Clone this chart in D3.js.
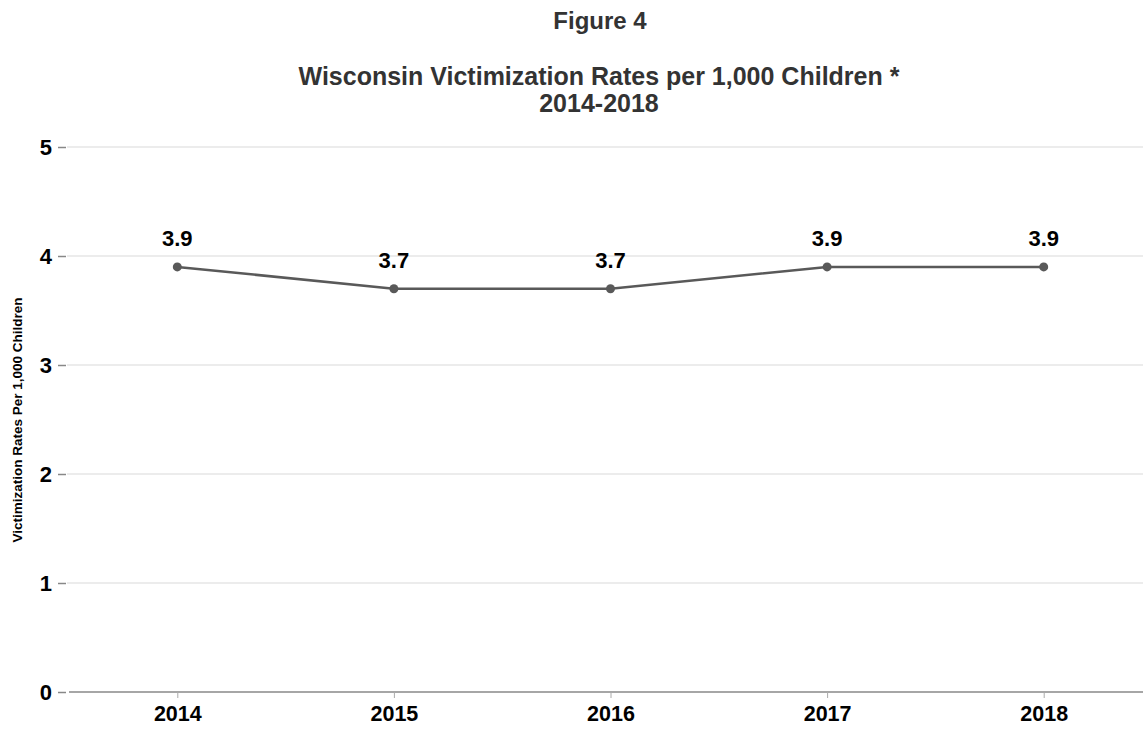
<!DOCTYPE html>
<html>
<head>
<meta charset="utf-8">
<script src="https://cdn.jsdelivr.net/npm/d3@7"></script>
<style>
  body { margin: 0; background: #fff; }
  text { font-family: "Liberation Sans", Arial, sans-serif; }
</style>
</head>
<body>
<script>
// chart data
let years = ["2014", "2015", "2016", "2017", "2018"];
let rates = [3.9, 3.7, 3.7, 3.9, 3.9];
let yTicks = [0, 1, 2, 3, 4, 5];

let w = 1143;
let h = 732;
let mLeft = 67, mRight = 1143, mTop = 147, mBottom = 692;

let svg = d3.select("body")
            .append("svg")
            .attr("width", w)
            .attr("height", h);

let x = d3.scalePoint().domain(years).range([69, 1152]).padding(0.5);
let y = d3.scaleLinear().domain([0, 5]).range([mBottom, mTop]);

// titles
svg.append("text").attr("x", 600).attr("y", 29).attr("text-anchor", "middle")
   .attr("font-size", 24).attr("font-weight", "bold").attr("fill", "#333")
   .text("Figure 4");
svg.append("text").attr("x", 599).attr("y", 85).attr("text-anchor", "middle")
   .attr("font-size", 25).attr("font-weight", "bold").attr("fill", "#333")
   .text("Wisconsin Victimization Rates per 1,000 Children *");
svg.append("text").attr("x", 599).attr("y", 112).attr("text-anchor", "middle")
   .attr("font-size", 25).attr("font-weight", "bold").attr("fill", "#333")
   .text("2014-2018");

// gridlines
svg.append("g")
   .selectAll("line")
   .data(yTicks.filter(d => d > 0))
   .enter()
   .append("line")
   .attr("x1", mLeft).attr("x2", mRight)
   .attr("y1", d => y(d)).attr("y2", d => y(d))
   .attr("stroke", "#e6e6e6").attr("stroke-width", 1.5);

// y axis
let yAxis = svg.append("g")
   .attr("transform", `translate(${mLeft - 1},0)`)
   .call(d3.axisLeft(y).tickValues(yTicks).tickSize(8).tickPadding(6).tickFormat(d3.format("d")));
yAxis.select(".domain").remove();
yAxis.selectAll("line").attr("stroke", "#888").attr("stroke-width", 1.5);
yAxis.selectAll("text").attr("font-size", 22).attr("font-weight", "bold").attr("fill", "#000")
   .attr("font-family", "Liberation Sans, Arial, sans-serif");

// x axis
let xAxis = svg.append("g")
   .attr("transform", `translate(0,${mBottom})`)
   .call(d3.axisBottom(x).tickSize(6).tickPadding(8).tickSizeOuter(0));
xAxis.select(".domain").attr("stroke", "#888").attr("stroke-width", 1.5)
   .attr("d", `M${mLeft + 2},0H${mRight}`);
xAxis.selectAll("line").attr("stroke", "#aaa");
xAxis.selectAll("text").attr("font-size", 21.5).attr("font-weight", "bold").attr("fill", "#000")
   .attr("font-family", "Liberation Sans, Arial, sans-serif");

// y label
svg.append("text")
   .attr("transform", "translate(22,420) rotate(-90)")
   .attr("text-anchor", "middle")
   .attr("font-size", 13.5).attr("font-weight", "bold").attr("fill", "#000")
   .text("Victimization Rates Per 1,000 Children");

// line
let line = d3.line().x((d, i) => x(years[i])).y(d => y(d));
svg.append("path")
   .datum(rates)
   .attr("d", line)
   .attr("fill", "none")
   .attr("stroke", "#595959")
   .attr("stroke-width", 2.5);

svg.selectAll("circle")
   .data(rates)
   .enter()
   .append("circle")
   .attr("cx", (d, i) => x(years[i]))
   .attr("cy", d => y(d))
   .attr("r", 4.5)
   .attr("fill", "#595959");

svg.selectAll(".lbl")
   .data(rates)
   .enter()
   .append("text")
   .attr("class", "lbl")
   .attr("x", (d, i) => x(years[i]))
   .attr("y", d => y(d) - 21)
   .attr("text-anchor", "middle")
   .attr("font-size", 22).attr("font-weight", "bold").attr("fill", "#000")
   .text(d => d3.format(".1f")(d));
</script>
</body>
</html>
